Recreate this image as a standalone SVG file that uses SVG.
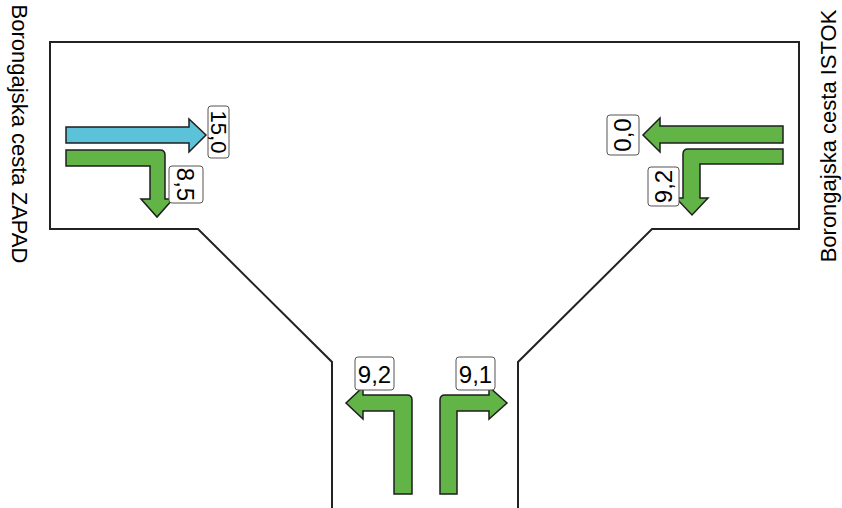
<svg xmlns="http://www.w3.org/2000/svg" width="842" height="508" viewBox="0 0 842 508">
<style>
.road{fill:none;stroke:#222;stroke-width:2}
.g{fill:#62b446;stroke:#1e1e1e;stroke-width:1.5;stroke-linejoin:miter}
.b{fill:#5cc2da;stroke:#1e1e1e;stroke-width:1.5}
.box{fill:#fff;stroke:#555;stroke-width:1}
.lbl{font-family:"Liberation Sans",Arial,sans-serif;font-size:24px;fill:#000;text-anchor:middle}
.side{font-family:"Liberation Sans",Arial,sans-serif;font-size:22px;fill:#000;text-anchor:middle}
</style>
<rect width="842" height="508" fill="#fff"/>
<g id="road">
<path class="road" d="M332,508 V362 L198,229 H50 V42 H799 V229 H652 L518,362 V508"/>
</g>
<g id="connectors">
<path id="west-through" class="b" d="M66,127 H189 V119 L206,135 L189,152 V143 H66 Z"/>
<path id="west-left" class="g" d="M66,150 H160 Q165,150 165,155 V199 H173 L157,217 L141,199 H150 V166 H66 Z"/>
<path id="east-through" class="g" d="M783,126 H660 V118 L643,135 L660,152 V143 H783 Z"/>
<path id="east-right" class="g" d="M783,149 H688 Q683,149 683,154 V198 H676 L692,215 L708,198 H700 V164 H783 Z"/>
<path id="south-left" class="g" d="M394,494 V411 H363 V419 L346,403 L363,387 V395 H407 Q412,395 412,400 V494 Z"/>
<path id="south-right" class="g" d="M457,494 V411 H489 V419 L507,403 L489,387 V395 H445 Q440,395 440,400 V494 Z"/>
</g>
<g id="label-15-0">
<rect class="box" x="208" y="106" width="21" height="52" rx="3"/>
<text class="lbl" style="font-size:22px" transform="translate(210.5,132) rotate(90)">15,0</text>
</g>
<g id="label-8-5">
<rect class="box" x="169" y="166" width="34" height="37" rx="3"/>
<text class="lbl" transform="translate(177,184.5) rotate(90)">8,5</text>
</g>
<g id="label-0-0">
<rect class="box" x="607" y="115" width="32" height="40" rx="3"/>
<text class="lbl" transform="translate(631,135) rotate(-90)">0,0</text>
</g>
<g id="label-9-2-east">
<rect class="box" x="648" y="167" width="31" height="39" rx="3"/>
<text class="lbl" transform="translate(672,186.5) rotate(-90)">9,2</text>
</g>
<g id="label-9-2-south">
<rect class="box" x="355" y="357" width="39" height="33" rx="3"/>
<text class="lbl" x="374.5" y="383">9,2</text>
</g>
<g id="label-9-1-south">
<rect class="box" x="456" y="357" width="39" height="33" rx="3"/>
<text class="lbl" x="475.5" y="383">9,1</text>
</g>
<g id="title-west">
<text class="side" transform="translate(12,134) rotate(90)">Borongajska cesta ZAPAD</text>
</g>
<g id="title-east">
<text class="side" transform="translate(836,136) rotate(-90)">Borongajska cesta ISTOK</text>
</g>
</svg>
